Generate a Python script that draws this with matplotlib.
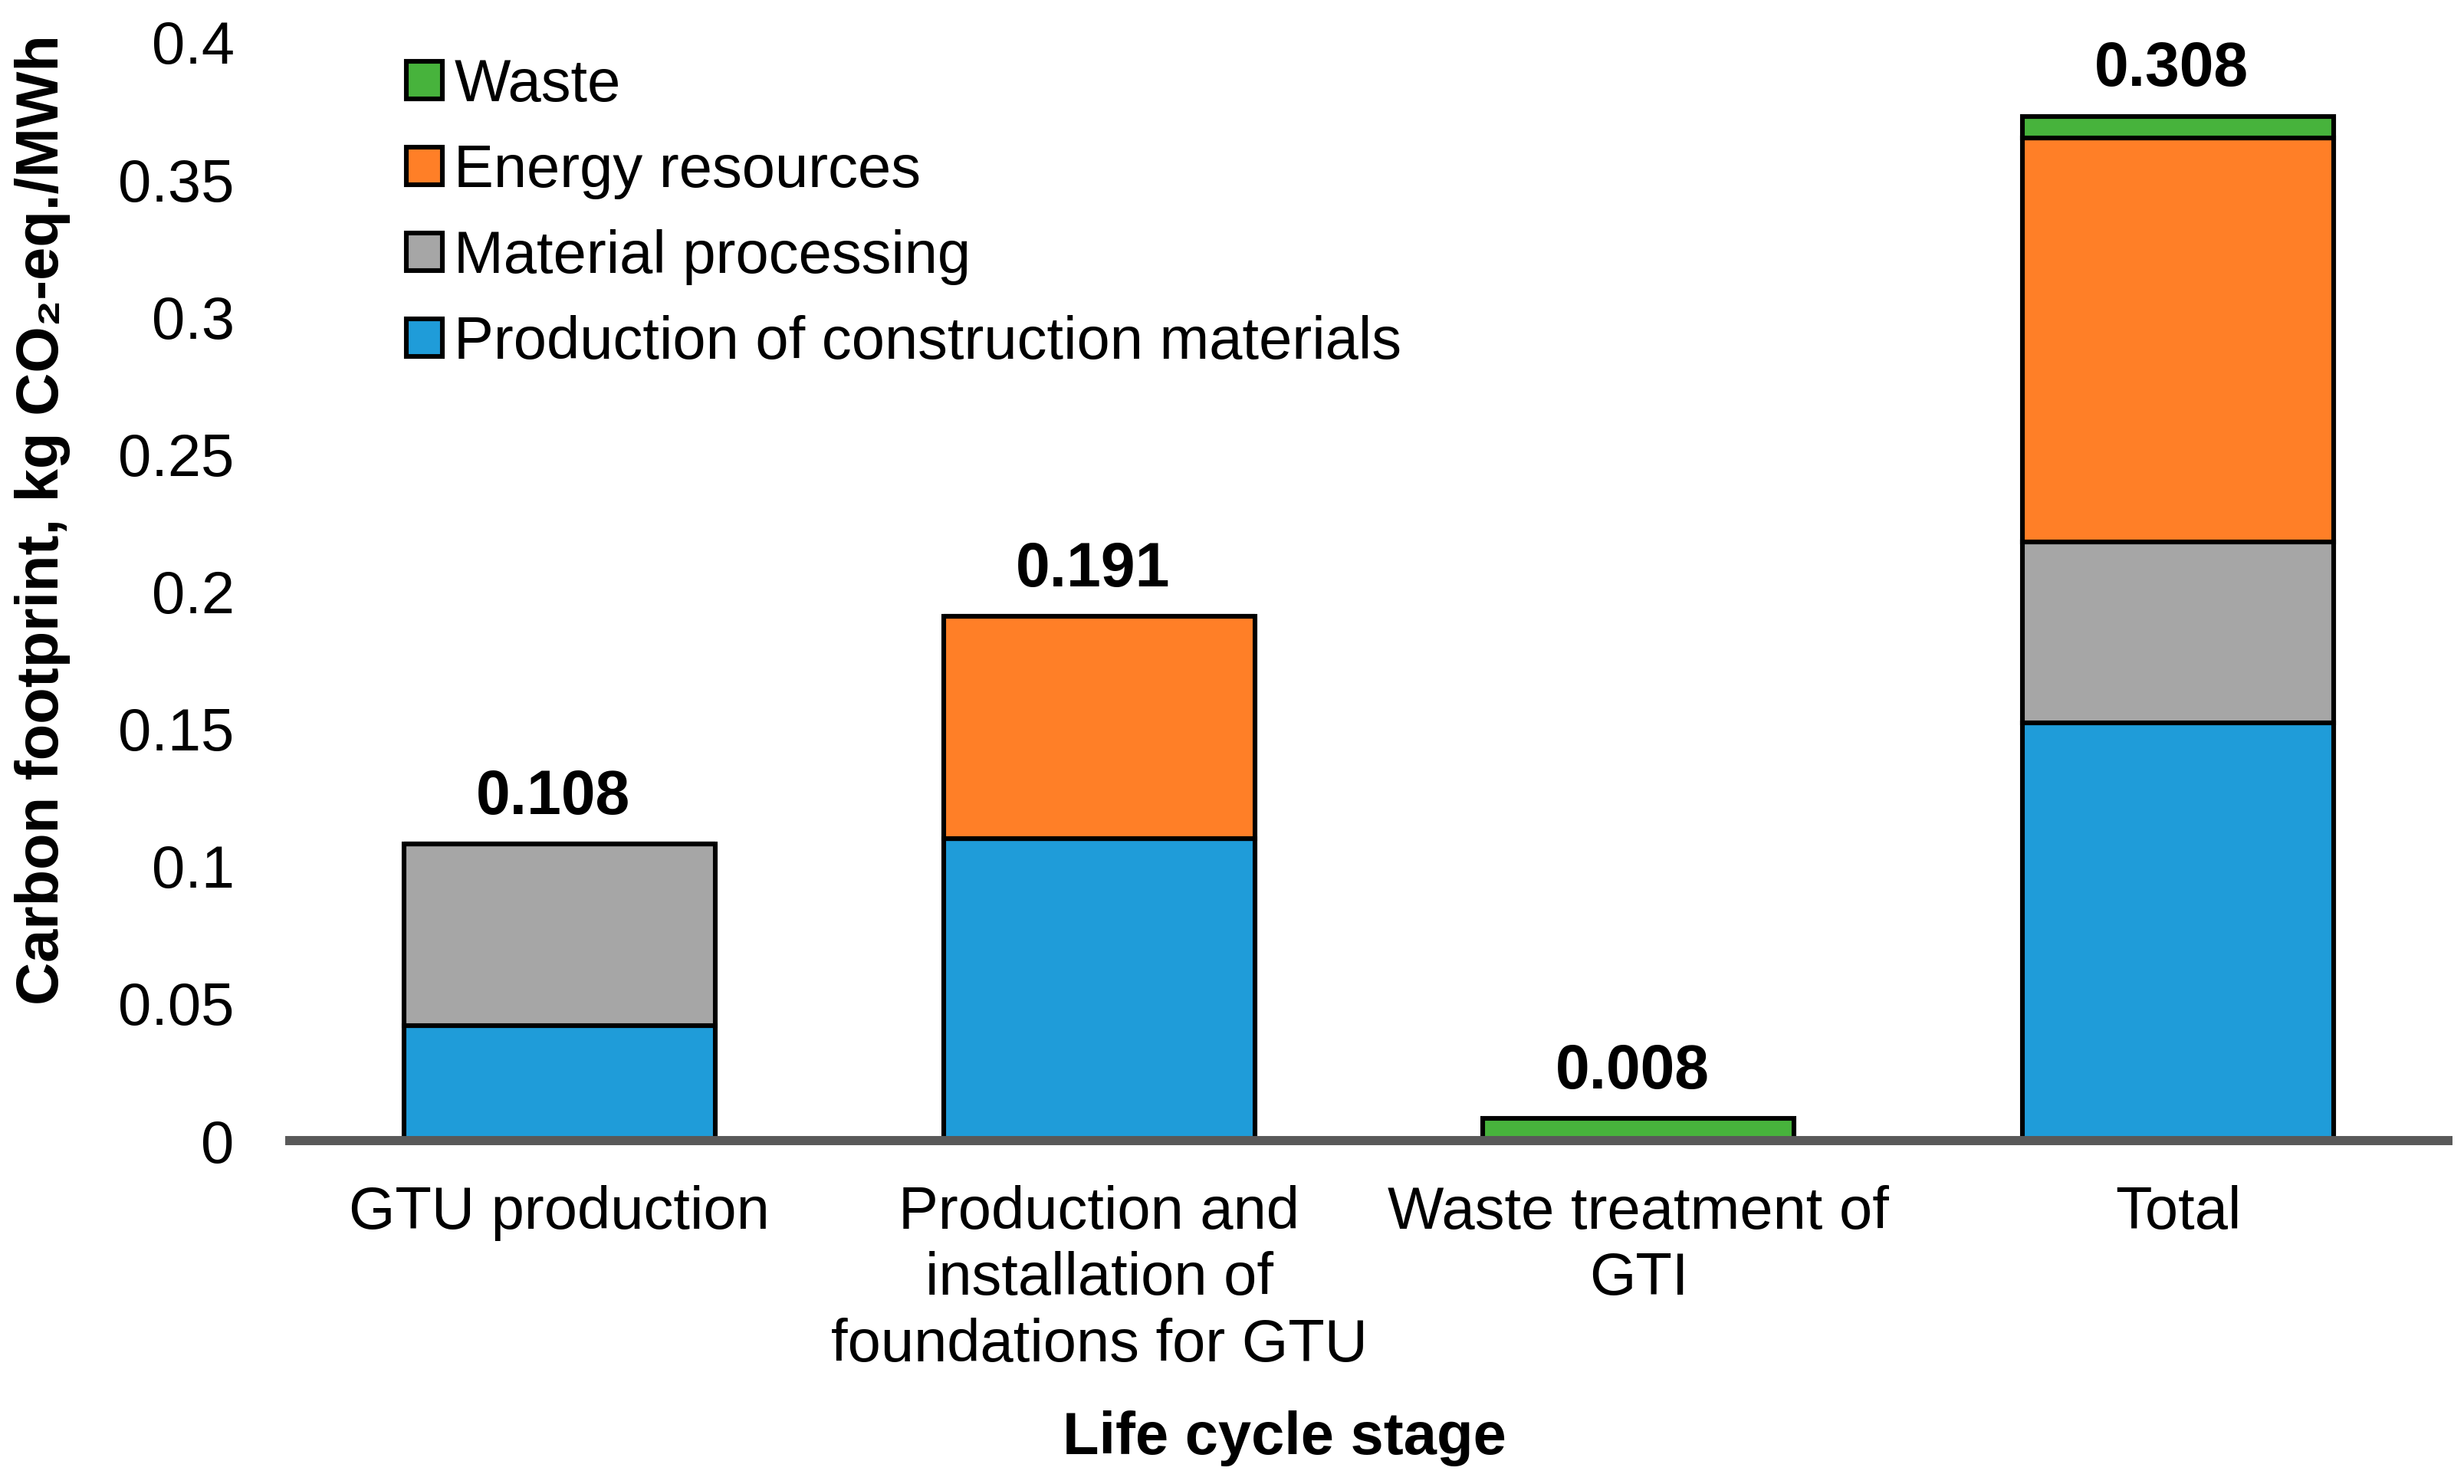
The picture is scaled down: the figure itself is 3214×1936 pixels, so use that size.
import numpy as np
import matplotlib
matplotlib.use('Agg')
import matplotlib.pyplot as plt

plt.rcParams['font.family'] = ['Liberation Sans', 'DejaVu Sans']

# Data
stages = ['GTU production',
          'Production and\ninstallation of\nfoundations for GTU',
          'Waste treatment of\nGTI',
          'Total']
construction = [0.042, 0.110, 0.0, 0.152]
processing = [0.066, 0.0, 0.0, 0.066]
energy = [0.0, 0.081, 0.0, 0.147]
waste = [0.0, 0.0, 0.008, 0.008]
total_labels = ['0.108', '0.191', '0.008', '0.308']

series = [
    ('Production of construction materials', construction, '#1F9CD9'),
    ('Material processing', processing, '#A6A6A6'),
    ('Energy resources', energy, '#FF7F27'),
    ('Waste', waste, '#47B33C'),
]

fig = plt.figure(figsize=(16.07, 9.68), dpi=200)
ax = fig.add_axes([0.1176, 0.2314, 0.8759, 0.7402])

x = np.arange(len(stages))
bottom = np.zeros(len(stages))
handles = []
for name, vals, color in series:
    vals = np.array(vals)
    b = ax.bar(x, vals, 0.577, bottom=bottom, color=color,
               edgecolor='black', linewidth=2.2, label=name)
    handles.append(b)
    bottom += vals

# value labels above each stack
for xi, top, txt in zip(x, bottom, total_labels):
    ax.annotate(txt, (xi, top), xytext=(-3, 8), textcoords='offset points',
                ha='center', va='bottom', fontsize=29, fontweight='bold')

ax.set_xlim(-0.5, 3.5)
ax.set_ylim(0, 0.4)
ax.set_yticks(np.arange(0, 0.401, 0.05))
ax.set_yticklabels(['0', '0.05', '0.1', '0.15', '0.2', '0.25', '0.3', '0.35', '0.4'])
ax.set_xticks(x)
ax.set_xticklabels(stages, linespacing=1.23)
ax.tick_params(axis='y', length=0, pad=26, labelsize=28)
ax.tick_params(axis='x', length=0, pad=21, labelsize=28)

for s in ['top', 'right', 'left']:
    ax.spines[s].set_visible(False)
ax.spines['bottom'].set_color('#595959')
ax.spines['bottom'].set_linewidth(4.3)

ax.set_xlabel('Life cycle stage', fontsize=28, fontweight='bold', va='center')
ax.xaxis.set_label_coords(0.461, -0.271)
ax.set_ylabel('Carbon footprint, kg CO\u2082-eq./MWh', fontsize=28,
              fontweight='bold', va='center', ha='center')
ax.yaxis.set_label_coords(-0.1147, 0.565)

leg = fig.legend(handles[::-1], [s[0] for s in series][::-1],
                 loc='upper left', bbox_to_anchor=(530 / 3214, 1 - 75 / 1936),
                 frameon=False, fontsize=28, borderpad=0, borderaxespad=0,
                 handlelength=0.6, handleheight=0.6, handletextpad=0.2,
                 labelspacing=0.5)

fig.savefig('out.png', dpi=200)
